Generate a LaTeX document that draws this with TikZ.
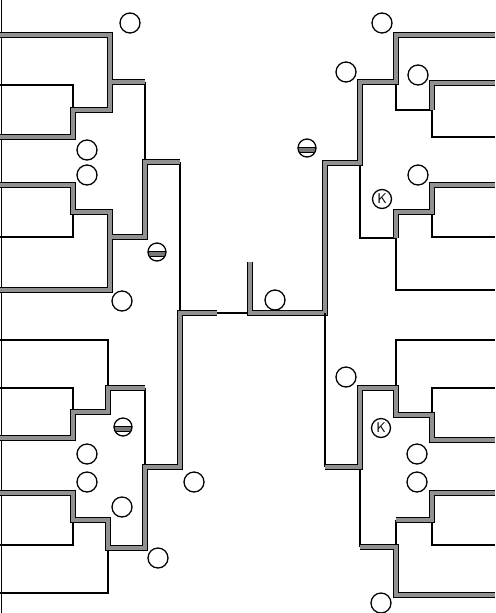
\documentclass[tikz,border=0pt]{standalone}
\usepackage{xcolor}
\usepackage{tikz}
\definecolor{wingray}{RGB}{145,145,145}
\definecolor{bandgray}{RGB}{120,120,120}

\begin{document}
\begin{tikzpicture}[x=0.03cm, y=-0.03cm,
    won/.style={line width=2.9pt, wingray, line join=miter, preaction={draw=black, line width=4.4pt, line join=miter}},
    lost/.style={line width=1.4pt, black},
    slot/.style={line width=1.1pt},
    kslot/.style={circle, draw, line width=1.1pt, minimum size=0.57cm, inner sep=0pt, font=\sffamily\large}]
    \useasboundingbox (0,0) rectangle (495,613);

    % Page edge
    \draw[line width=0.8pt] (1,0) -- (1,613);

    % Top-left quarter
    \draw[lost] (0,85) -- (73,85) -- (73,110);
    \draw[lost] (145,82) -- (145,162);
    \draw[lost] (73,212) -- (73,237) -- (0,237);
    \draw[lost] (180,162) -- (180,313);
    \draw[won] (0,35) -- (110,35) -- (110,110) -- (73,110) -- (73,137) -- (0,137)
        (110,82) -- (145,82)
        (0,185) -- (73,185) -- (73,212) -- (110,212) -- (110,290) -- (0,290)
        (110,237) -- (145,237) -- (145,162) -- (180,162);

    % Bottom-left quarter
    \draw[lost] (0,340) -- (108,340) -- (108,388);
    \draw[lost] (0,388) -- (73,388) -- (73,412);
    \draw[lost] (145,388) -- (145,467);
    \draw[lost] (73,520) -- (73,545) -- (0,545);
    \draw[lost] (108,548) -- (108,593) -- (0,593);
    \draw[lost] (217,313) -- (250,313);
    \draw[won] (0,438) -- (73,438) -- (73,412) -- (108,412) -- (108,388) -- (145,388)
        (0,493) -- (73,493) -- (73,520) -- (108,520) -- (108,548) -- (145,548)
        -- (145,467) -- (180,467) -- (180,313) -- (217,313);

    % Top-right quarter and final
    \draw[lost] (495,137) -- (432,137) -- (432,110) -- (396,110) -- (396,82);
    \draw[lost] (360,163) -- (360,238) -- (396,238) -- (396,290) -- (495,290);
    \draw[lost] (432,212) -- (432,237) -- (495,237);
    \draw[won] (250,262) -- (250,313) -- (325,313) -- (325,163) -- (360,163)
        -- (360,82) -- (396,82) -- (396,35) -- (495,35)
        (495,83) -- (432,83) -- (432,110)
        (495,185) -- (432,185) -- (432,212) -- (396,212) -- (396,238);

    % Bottom-right quarter
    \draw[lost] (325,313) -- (325,467);
    \draw[lost] (495,340) -- (396,340) -- (396,388);
    \draw[lost] (495,388) -- (432,388) -- (432,415);
    \draw[lost] (360,467) -- (360,547);
    \draw[lost] (396,520) -- (396,547);
    \draw[lost] (432,520) -- (432,545) -- (495,545);
    \draw[won] (325,467) -- (360,467) -- (360,388) -- (396,388) -- (396,415)
        -- (432,415) -- (432,440) -- (495,440)
        (495,493) -- (432,493) -- (432,520) -- (396,520)
        (360,547) -- (396,547) -- (396,595) -- (495,595);

    % Empty circles
    \foreach \x/\y in {130/23, 87/150, 87/175, 122/301, 87/454, 87/482, 122/507,
        194/482, 158/558, 275/300, 382/23, 346/72, 418/75, 418/175,
        346/377, 417/454, 417/482, 381/603}
        \draw[slot] (\x,\y) circle (10);

    % Banded circles
    \foreach \x/\y in {157/252, 123/427, 307/148} {
        \begin{scope}[shift={(\x,\y)}]
            \begin{scope}
                \clip (0,0) circle (9);
                \fill[bandgray] (-10,-1) rectangle (10,4);
                \draw[line width=0.7pt] (-10,-1) -- (10,-1) (-10,4) -- (10,4);
            \end{scope}
            \draw[slot] (0,0) circle (9);
        \end{scope}
    }

    % Marked circles
    \node[kslot] (k1) at (382,199) {K};
    \node[kslot] (k2) at (381,428) {K};
\end{tikzpicture}
\end{document}
